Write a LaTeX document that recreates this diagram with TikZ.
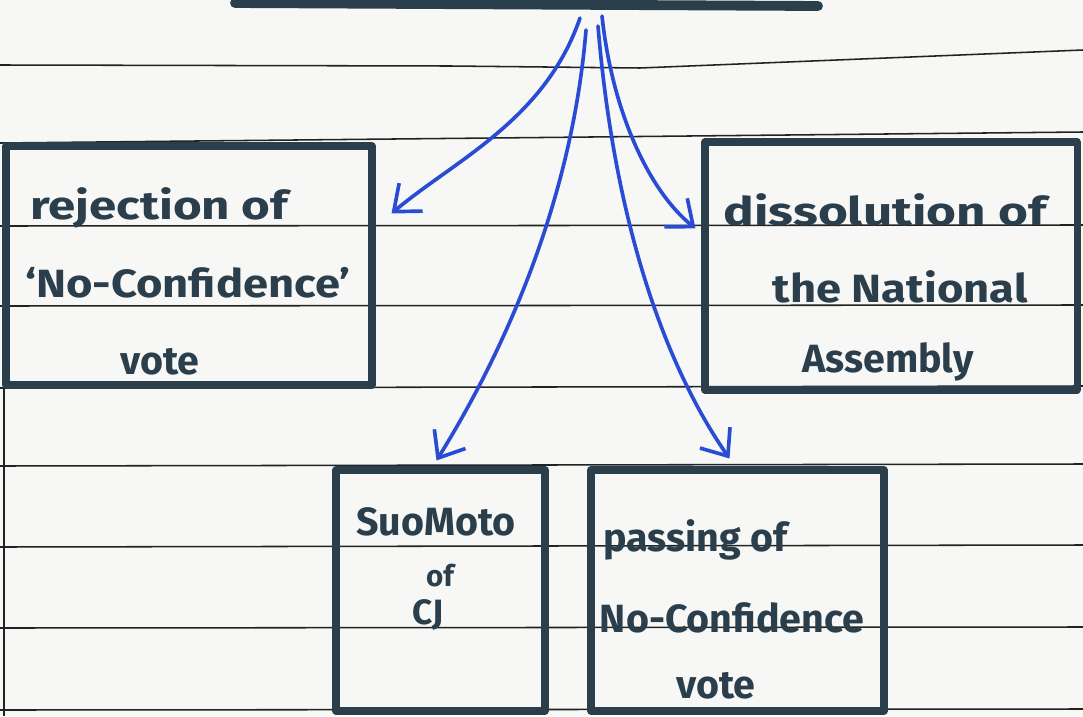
\documentclass[tikz,border=0pt]{standalone}
\usepackage{fontspec}
\setmainfont{Fira Sans}
\usetikzlibrary{arrows.meta,fit}
\definecolor{ink}{HTML}{2B3E4C}
\definecolor{pen}{HTML}{2A4BD4}
\definecolor{rulec}{HTML}{222222}
\definecolor{paper}{HTML}{F7F7F5}
\begin{document}
\begin{tikzpicture}[x=0.025cm,y=-0.025cm,
  boxframe/.style={draw=ink,line width=5pt,line join=round,inner sep=0pt},
  hand/.style={text=ink,font=\fontsize{28}{32}\selectfont\bfseries,inner sep=0pt},
  handsmall/.style={hand,font=\fontsize{21}{24}\selectfont\bfseries},
  handmid/.style={hand,font=\fontsize{25}{28}\selectfont\bfseries},
  penarrow/.style={draw=pen,line width=2.6pt,line cap=round,
    -{Straight Barb[length=16pt,width=26pt,line width=2.6pt]}},
  ruleline/.style={draw=rulec,line width=1.1pt}]
\fill[paper] (0,0) rectangle (1083,716);
\useasboundingbox (0,0) rectangle (1083,716);
% ruled lines
\draw[ruleline] (0,65) -- (450,66) -- (640,68) -- (1083,50);
\draw[ruleline] (0,143) -- (1083,132);
\draw[ruleline] (0,226) -- (1083,225);
\draw[ruleline] (0,306) -- (1083,305);
\draw[ruleline] (0,388) -- (1083,386);
\draw[ruleline] (0,466) -- (1083,464);
\draw[ruleline] (0,547) -- (1083,545);
\draw[ruleline] (0,628) -- (1083,627);
\draw[ruleline] (0,710) -- (1083,709);
\draw[ruleline] (4,385) -- (4,716);
% top bar (bottom edge of cut-off box)
\coordinate (barL) at (235,3);
\coordinate (barR) at (818,6);
\draw[ink,line width=7pt,line cap=round] (barL) -- (barR);
% boxes
\node[boxframe,fit={(6,146)(372,385)}] (rej) {};
\node[boxframe,fit={(705,142)(1077,390)}] (dis) {};
\node[boxframe,fit={(336,470)(545,711)}] (suo) {};
\node[boxframe,fit={(591,470)(884,711)}] (pas) {};
% texts
\node[hand,anchor=west] (rejA) at (30,208) {\scalebox{1.25}[1]{rejection of}};
\node[hand] (rejB) at (188,283) {\scalebox{1.15}[1]{‘No-Confidence’}};
\node[hand] (rejC) at (160,362) {vote};
\node[hand] (disA) at (885,210) {\scalebox{1.3}[1]{dissolution of}};
\node[hand] (disB) at (900,287) {\scalebox{1.15}[1]{the National}};
\node[hand] (disC) at (888,362) {Assembly};
\node[hand] (suoA) at (436,522) {SuoMoto};
\node[handsmall] (suoB) at (440,576) {of};
\node[handmid] (suoC) at (428,615) {CJ};
\node[hand,anchor=west] (pasA) at (603,540) {passing of};
\node[hand] (pasB) at (732,618) {No-Confidence};
\node[hand] (pasC) at (716,686) {vote};
% arrow starts
\coordinate (a1) at (580,18);
\coordinate (a2) at (586,30);
\coordinate (a3) at (602,16);
\coordinate (a4) at (598,26);
% arrows
\draw[penarrow] (a1) .. controls (545,120) and (455,160) .. ([shift={(16,71)}]rej.north east);
\draw[penarrow] (a2) .. controls (572,200) and (505,350) .. ([shift={(-4,-6)}]suo.north);
\draw[penarrow] (a3) .. controls (612,110) and (648,190) .. ([shift={(-6,90)}]dis.north west);
\draw[penarrow] (a4) .. controls (615,230) and (668,370) .. ([shift={(-8,-8)}]pas.north);
\end{tikzpicture}
\end{document}
